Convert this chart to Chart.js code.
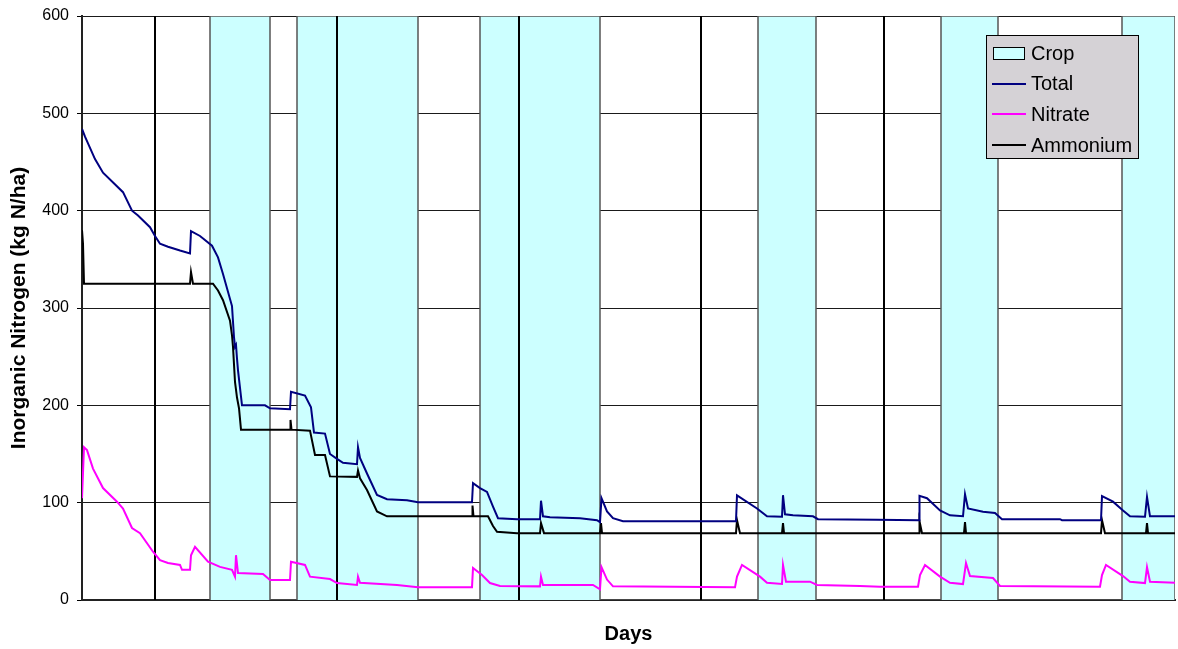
<!DOCTYPE html>
<html>
<head>
<meta charset="utf-8">
<script src="https://cdn.jsdelivr.net/npm/chart.js@4.4.1/dist/chart.umd.min.js"></script>
<style>
  html, body { margin: 0; padding: 0; background: #fff; }
  #wrap { width: 1178px; height: 649px; position: relative; }
</style>
</head>
<body>
<div id="wrap"><canvas id="nChart"></canvas></div>
<script>
// values (day, kg N/ha)
const totalDays = [0,6,26,42,82,100,112,136,146,156,172,196,216,218,236,260,272,282,300,304,306,308,310,312,320,366,376,416,418,446,458,464,486,496,510,522,550,552,556,570,590,610,650,672,780,782,796,810,822,832,870,916,918,922,936,996,1030,1036,1039,1050,1062,1082,1308,1310,1350,1370,1400,1402,1406,1422,1462,1472,1590,1674,1675,1690,1716,1736,1762,1766,1772,1802,1826,1840,1956,1960,2038,2040,2062,2082,2096,2126,2130,2136,2186];
const totalN = [484,476,453,439,419,400,395,383,374,366,363,359,356,379,374,364,352,335,302,270,260,262,248,236,200,200,197,196,214,210,198,172,171,150,145,141,139.5,157,146,130,108,103.5,102.5,100.5,100.5,120,115,111,96,84,83,83,102,86,85,84,82,80,104.6,91,84,81,81,107.5,94,86,85.5,107.7,88,87,86,83,82.5,82,107,104.6,92,87,86,108.7,94,90.6,89.5,83,83,82,82,106.7,101,92,86,85.5,106,86,86];

const nitrateDays = [0,4,10,22,42,70,82,100,116,142,156,172,196,200,216,218,226,252,276,300,306,308,312,362,376,416,418,446,456,496,510,550,552,556,630,672,780,782,800,816,836,916,918,922,1022,1036,1039,1050,1062,1306,1310,1320,1356,1370,1400,1402,1408,1456,1470,1556,1596,1672,1676,1686,1716,1736,1762,1768,1776,1822,1836,2036,2040,2048,2082,2096,2126,2130,2136,2186];
const nitrateN = [104.6,157,154,135,115,101,94,74,68.7,49.6,41,38,36,31,31,46,54.7,39.3,34,31,24,46,27.7,26.7,20.5,20.5,39.3,36,24,21.5,17.4,15.4,24,17.7,15.4,13,13,32.8,25.6,17.4,14.4,14,24,15.4,15.4,11,33.8,21,14,13,24,36,24,17.7,16.4,36,18.8,18.8,15.4,14.4,13.7,13.7,25.6,36,24,17.7,16.4,38,24.6,22.6,14.4,13.7,25.6,36,24.6,18.8,17.4,33.8,18.8,17.7];

const ammoniumDays = [0,2,4,216,218,222,262,272,282,296,300,302,306,310,314,318,416,417,419,456,466,486,496,550,552,556,570,590,610,780,781,783,812,822,830,870,916,918,924,1036,1038,1040,1308,1310,1316,1400,1402,1404,1674,1675,1680,1764,1766,1768,2038,2040,2046,2128,2130,2132,2186];
const ammoniumN = [380,366,325,325,337,325,325,318,308,287,272,260,224,208,197,175,175,185,175,174,149,149,127,126.5,133,125,113,91,86,86,97,86,86,76,70,68.7,68.7,79,68.7,68.7,79,68.7,68.7,82,68.7,68.7,79,68.7,68.7,81,68.7,68.7,80,68.7,68.7,82,68.7,68.7,79,68.7,68.7];

// crop periods (start / end day)
const cropStart = [256, 430, 796, 1352, 1718, 2080];
const cropEnd = [376, 672, 1036, 1468, 1832, 2186];

// thick vertical markers
const yearLines = [146, 510, 874, 1238, 1604];

const dayMax = 2186;
const yMax = 600;
const yStep = 100;

const pts = (xs, ys) => xs.map((x, i) => ({ x: x, y: ys[i] }));

const cropPts = [];
cropStart.forEach((s, i) => {
    cropPts.push({ x: s, y: 0 }, { x: s, y: yMax }, { x: cropEnd[i], y: yMax }, { x: cropEnd[i], y: 0 });
});

const fontFam = '"Liberation Sans", Arial, sans-serif';
Chart.defaults.font.family = fontFam;
Chart.defaults.color = '#000';

const lineStyle = { pointRadius: 0, tension: 0, borderWidth: 2, fill: false };

const datasets = [
    Object.assign({ label: 'Total', data: pts(totalDays, totalN), borderColor: '#000080' }, lineStyle),
    Object.assign({ label: 'Nitrate', data: pts(nitrateDays, nitrateN), borderColor: '#FF00FF' }, lineStyle),
    Object.assign({ label: 'Ammonium', data: pts(ammoniumDays, ammoniumN), borderColor: '#000000' }, lineStyle)
];
yearLines.forEach(d => {
    datasets.push({ label: 'year', data: [{ x: d, y: 0 }, { x: d, y: yMax }], borderColor: '#000', borderWidth: 2, pointRadius: 0, fill: false });
});
datasets.push({
    label: 'Crop', data: cropPts, borderColor: '#555', borderWidth: 1.5,
    backgroundColor: '#CCFFFF', fill: 'origin', pointRadius: 0, tension: 0
});

// legend box drawn inside the plot
const boxLegend = {
    id: 'boxLegend',
    afterDraw(chart) {
        const ctx = chart.ctx;
        const x = 986, y = 35, w = 152, h = 123;
        ctx.save();
        ctx.fillStyle = '#D5D2D6';
        ctx.fillRect(x, y, w, h);
        ctx.strokeStyle = '#000';
        ctx.lineWidth = 1;
        ctx.strokeRect(x + 0.5, y + 0.5, w, h);
        const items = [
            { text: 'Crop', box: true },
            { text: 'Total', color: '#000080' },
            { text: 'Nitrate', color: '#FF00FF' },
            { text: 'Ammonium', color: '#000000' }
        ];
        ctx.font = '20px ' + fontFam;
        ctx.textBaseline = 'middle';
        items.forEach((it, i) => {
            const cy = 53 + i * 30.7;
            if (it.box) {
                ctx.fillStyle = '#CCFFFF';
                ctx.fillRect(993, cy - 6, 31, 12);
                ctx.strokeStyle = '#000';
                ctx.strokeRect(993.5, cy - 5.5, 31, 12);
            } else {
                ctx.strokeStyle = it.color;
                ctx.lineWidth = 2;
                ctx.beginPath();
                ctx.moveTo(992, Math.round(cy));
                ctx.lineTo(1026, Math.round(cy));
                ctx.stroke();
            }
            ctx.fillStyle = '#000';
            ctx.fillText(it.text, 1031, cy + 1);
        });
        ctx.restore();
    }
};

new Chart(document.getElementById('nChart'), {
    type: 'line',
    data: { datasets: datasets },
    options: {
        responsive: true,
        maintainAspectRatio: false,
        animation: false,
        layout: { padding: { top: 15, right: 3, left: 0, bottom: 0 } },
        plugins: { legend: { display: false }, tooltip: { enabled: false } },
        scales: {
            x: {
                type: 'linear',
                min: 0,
                max: dayMax,
                ticks: { display: false },
                grid: { display: false },
                border: { display: true, color: '#222', width: 2 },
                title: {
                    display: true, text: 'Days',
                    font: { size: 20, weight: 'bold' },
                    padding: { top: 0, bottom: 3 }
                },
                afterFit: s => { s.height = 49; }
            },
            y: {
                min: 0,
                max: yMax,
                ticks: { stepSize: yStep, padding: 8, font: { size: 16, lineHeight: 1 }, color: '#000' },
                grid: { color: '#1a1a1a', lineWidth: 1, tickLength: 5, tickColor: '#000' },
                border: { display: true, color: '#222', width: 2 },
                title: {
                    display: true, text: 'Inorganic Nitrogen (kg N/ha)',
                    font: { size: 21, weight: 'bold' },
                    padding: { top: 7, bottom: 0 }
                },
                afterFit: s => { s.width = 82; }
            }
        }
    },
    plugins: [boxLegend]
});
</script>
</body>
</html>
